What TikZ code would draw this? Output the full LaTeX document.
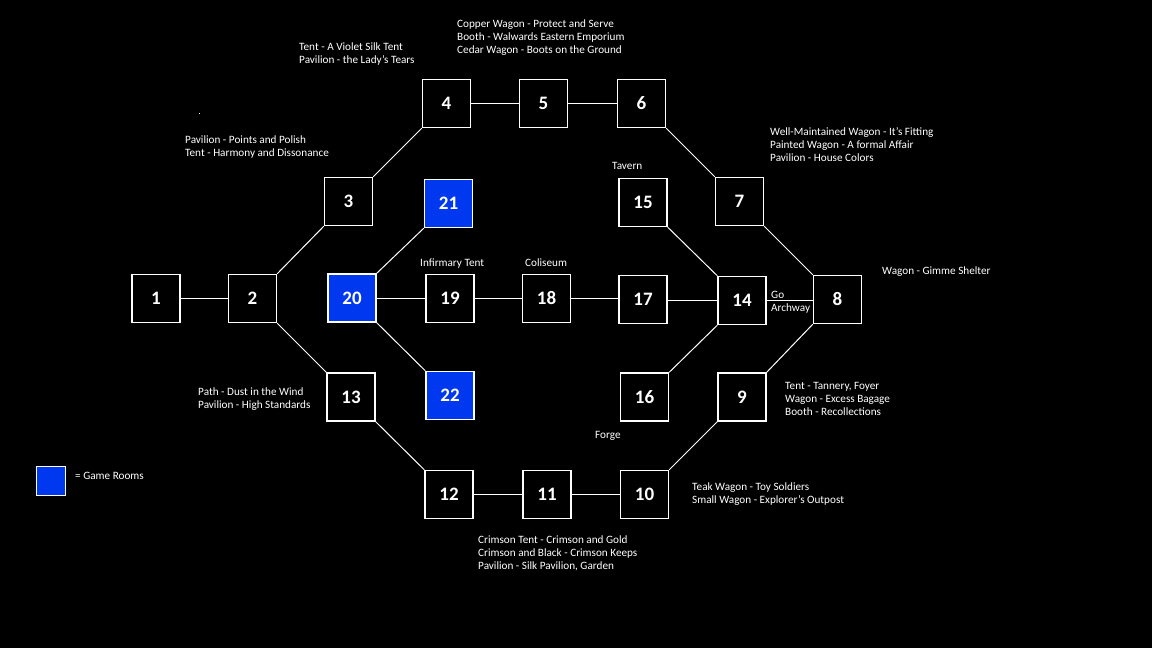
\documentclass[tikz,border=0pt]{standalone}
\usepackage{fontspec}
\setmainfont{Carlito}
\definecolor{gameblue}{RGB}{0,56,240}
\begin{document}
\begin{tikzpicture}[x=1pt,y=-1pt,
  room/.style={draw=white, line width=1.3pt, fill=black, minimum width=48pt, minimum height=48pt, inner sep=0pt, text=white, font=\bfseries\fontsize{19}{19}\selectfont},
  game/.style={room, fill=gameblue},
  lbl/.style={anchor=north west, inner sep=0pt, text=white, align=left, font=\fontsize{11.2}{13}\selectfont},
  link/.style={draw=white, line width=1pt}]
\fill[black] (0,0) rectangle (1152,648);
\useasboundingbox (0,0) rectangle (1152,648);
% rooms
\node[room] (r1) at (156,298.5) {1};
\node[room] (r2) at (252.5,298.5) {2};
\node[room] (r3) at (348.5,201.5) {3};
\node[room] (r4) at (446.5,103.5) {4};
\node[room] (r5) at (543.5,103.5) {5};
\node[room] (r6) at (641.5,103.5) {6};
\node[room] (r7) at (739.5,201.5) {7};
\node[room] (r8) at (837.5,299.5) {8};
\node[room] (r9) at (742,397) {9};
\node[room] (r10) at (644.5,494.5) {10};
\node[room] (r11) at (547,494.5) {11};
\node[room] (r12) at (449,494.5) {12};
\node[room] (r13) at (351,397) {13};
\node[room] (r14) at (742,300.5) {14};
\node[room] (r15) at (643,202.5) {15};
\node[room] (r16) at (644.5,397) {16};
\node[room] (r17) at (643,299.5) {17};
\node[room] (r18) at (546.5,298.5) {18};
\node[room] (r19) at (450,298.5) {19};
\node[game] (r20) at (352,298) {20};
\node[game] (r21) at (448.5,203.5) {21};
\node[game] (r22) at (450,395.5) {22};
% legend
\node[draw=white, line width=1.2pt, fill=gameblue, minimum width=29pt, minimum height=29pt, inner sep=0pt] (legend) at (51,481) {};
% connectors
\draw[link] (r1) -- (r2);
\draw[link] (r2.north east) -- (r3.south west);
\draw[link] (r3.north east) -- (r4.south west);
\draw[link] (r4) -- (r5);
\draw[link] (r5) -- (r6);
\draw[link] (r6.south east) -- (r7.north west);
\draw[link] (r7.south east) -- (r8.north west);
\draw[link] (r8.south west) -- (r9.north east);
\draw[link] (r9.south west) -- (r10.north east);
\draw[link] (r10) -- (r11);
\draw[link] (r11) -- (r12);
\draw[link] (r12.north west) -- (r13.south east);
\draw[link] (r2.south east) -- (r13.north west);
\draw[link] (r20.north east) -- (r21.south west);
\draw[link] (r20.south east) -- (r22.north west);
\draw[link] (r19.west) -- (r19.west -| r20.east);
\draw[link] (r19.east) -- (r19.east -| r18.west);
\draw[link] (r18.east) -- (r18.east -| r17.west);
\draw[link] (r14.west) -- (r14.west -| r17.east);
\draw[link] (r14.east) -- (r14.east -| r8.west);
\draw[link] (r15.south east) -- (r14.north west);
\draw[link] (r16.north east) -- (r14.south west);
% stray dot
\fill[white] (198.5,112.5) rectangle (200,114);
% labels
\node[lbl] (t4) at (299,43) {Tent - A Violet Silk Tent\\Pavilion - the Lady's Tears};
\node[lbl] (t5) at (457,20) {Copper Wagon - Protect and Serve\\Booth - Walwards Eastern Emporium\\Cedar Wagon - Boots on the Ground};
\node[lbl] (t3) at (185,136) {Pavilion - Points and Polish\\Tent - Harmony and Dissonance};
\node[lbl] (t15) at (612,162) {Tavern};
\node[lbl] (t7) at (770,127) {Well-Maintained Wagon - It's Fitting\\Painted Wagon - A formal Affair\\Pavilion - House Colors};
\node[lbl] (t8) at (882,267) {Wagon - Gimme Shelter};
\node[lbl] (tgo) at (771,291) {Go\\Archway};
\node[lbl] (t19) at (420,259) {Infirmary Tent};
\node[lbl] (t18) at (525,259) {Coliseum};
\node[lbl] (t13) at (198,388) {Path - Dust in the Wind\\Pavilion - High Standards};
\node[lbl] (tleg) at (75,472) {= Game Rooms};
\node[lbl] (t16) at (595,431) {Forge};
\node[lbl] (t9) at (785,382) {Tent - Tannery, Foyer\\Wagon - Excess Bagage\\Booth - Recollections};
\node[lbl] (t10) at (692,483) {Teak Wagon - Toy Soldiers\\Small Wagon - Explorer's Outpost};
\node[lbl] (t11) at (478,536) {Crimson Tent - Crimson and Gold\\Crimson and Black - Crimson Keeps\\Pavilion - Silk Pavilion, Garden};
\end{tikzpicture}
\end{document}
